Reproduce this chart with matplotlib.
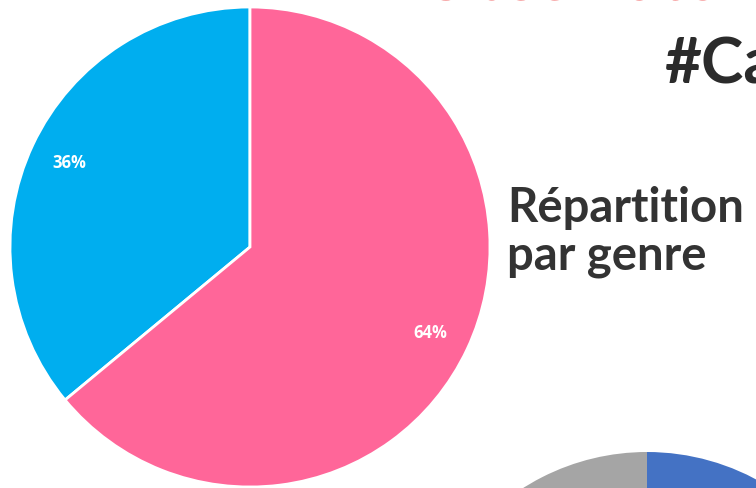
import matplotlib
matplotlib.use('Agg')
import matplotlib.pyplot as plt
from matplotlib.textpath import TextPath
from matplotlib.patches import PathPatch
from matplotlib.font_manager import FontProperties
from matplotlib.transforms import Affine2D

# pie 1 : repartition par genre
genre_labels = ['Hommes', 'Femmes']
genre_values = [36, 64]
genre_colors = ['#00AEEF', '#FF6699']

# pie 2 (only its top is visible at the bottom of the crop)
other_values = [70, 30]
other_colors = ['#4472C4', '#A5A5A5']

title_red = 'Observatoire 2019'
title_hash = '#Ca'
subtitle = 'Répartition\npar genre'

W, H = 756, 489
fig = plt.figure(figsize=(7.56, 4.89), dpi=100)
ax = fig.add_axes([0, 0, 1, 1])

wedges, texts, autotexts = ax.pie(
    genre_values, colors=genre_colors, startangle=90, counterclock=True,
    center=(250, H - 248), radius=240, autopct='%1.0f%%', pctdistance=0.83,
    wedgeprops=dict(edgecolor='white', linewidth=2), frame=True)
for t in autotexts:
    t.set_color('white')
    t.set_fontsize(12)
    t.set_fontweight('bold')
    t.set_fontfamily('Open Sans')

ax.pie(other_values, colors=other_colors, startangle=90, counterclock=False,
       center=(647, H - 684), radius=231, frame=True)

ax.set_xlim(0, W)
ax.set_ylim(0, H)
ax.set_aspect('equal')
ax.axis('off')

# red headline, only the foot of its letters shows in the crop
# (drawn as a path so that the clipping at the top edge is exact)
tp = TextPath((0, 0), title_red, size=64,
              prop=FontProperties(family='Lato', weight='bold'))
tp = Affine2D().translate(420, H - 1).transform_path(tp)
ax.add_patch(PathPatch(tp, facecolor='#F05A5A', edgecolor='none'))

fig.text(664 / W, 1 - 83 / H, title_hash, color='#2B2B2B', fontsize=46,
         fontweight='bold', family='Lato', ha='left', va='baseline')
fig.text(507 / W, 1 - 270 / H, subtitle, color='#333333', fontsize=34,
         fontweight='bold', family='Lato', ha='left', va='baseline',
         linespacing=1.12)

fig.savefig('out.png', dpi=100, facecolor='white')
